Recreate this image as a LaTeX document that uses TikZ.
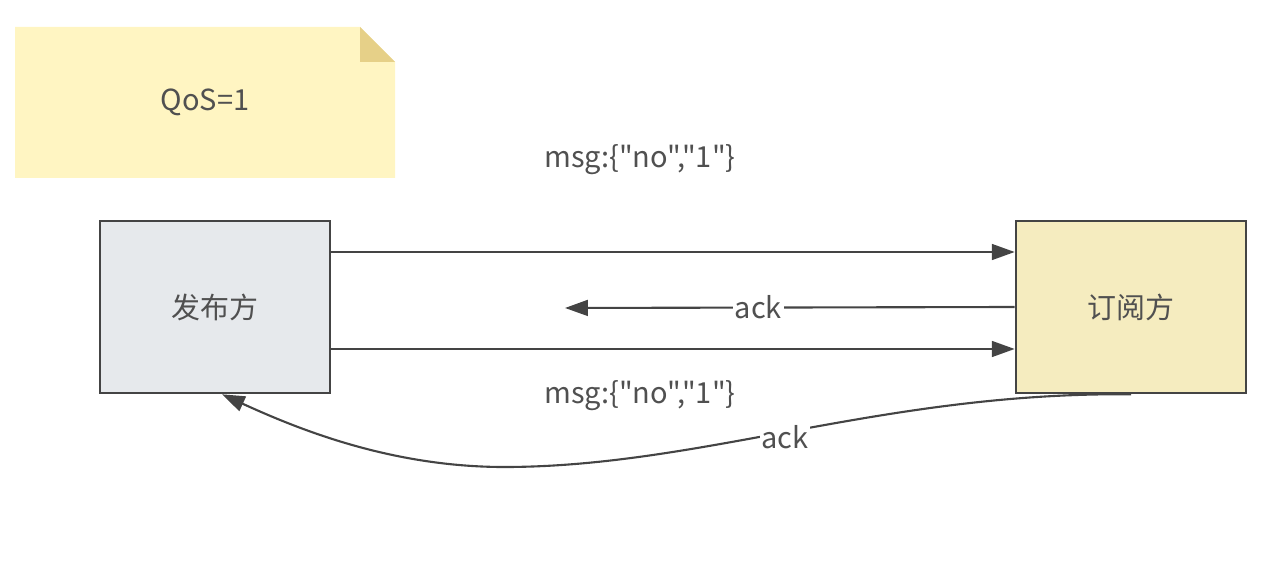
\documentclass[tikz,border=0pt]{standalone}
\usepackage{fontspec}
\newfontfamily\cjk{Noto Sans CJK SC}
\usetikzlibrary{arrows.meta,calc}
\definecolor{notefill}{RGB}{255,245,194}
\definecolor{notefold}{RGB}{230,208,136}
\definecolor{pubfill}{RGB}{230,233,236}
\definecolor{subfill}{RGB}{245,236,191}
\definecolor{edge}{RGB}{68,68,68}
\definecolor{txt}{RGB}{80,80,80}
\tikzset{
	party/.style={draw=edge,line width=1.5pt,minimum width=4.6cm,minimum height=3.44cm,font=\cjk\fontsize{16.5}{19}\selectfont,text=txt},
	lbl/.style={font=\cjk\fontsize{16.5}{19}\selectfont,text=txt},
	flow/.style={->,draw=edge,line width=1.2pt}
}

\begin{document}
\begin{tikzpicture}[x=0.02cm,y=-0.02cm,>={Triangle[length=13pt,width=9pt]}]
		\useasboundingbox (0,0) rectangle (1278,580);
		% note
		\fill[notefill] (15,27) -- (360,27) -- (395,62) -- (395,178) -- (15,178) -- cycle;
		\fill[notefold] (360,27) -- (360,62) -- (395,62) -- cycle;
		\node[lbl] (note) at (205,102) {QoS=1};
		
		\node[party,fill=pubfill] (pub) at (215,307) {发布方};
		\node[party,fill=subfill] (sub) at (1131,307) {订阅方};
		\coordinate (ackend) at (565,308);
		
		\draw[flow] ([yshift=1.1cm]pub.east) -- ([yshift=1.1cm]sub.west);
		\draw[flow] (sub.west) -- node[lbl,fill=white,inner sep=1pt,pos=0.57] (ack1) {ack} (ackend);
		\draw[flow] ([yshift=-0.84cm]pub.east) -- ([yshift=-0.84cm]sub.west);
		\node[lbl] (msg1) at (640,160) {msg:\{"no","1"\}};
		\node[lbl] (msg2) at (640,396) {msg:\{"no","1"\}};
		
		\draw[flow] (sub.south) .. controls (880,392) and (700,468) .. (500,467)
			.. controls (390,466) and (300,430) .. ([xshift=0.14cm]pub.south);
		\node[lbl,fill=white,inner sep=1pt] (ack2) at (785,437) {ack};
	\end{tikzpicture}
\end{document}
